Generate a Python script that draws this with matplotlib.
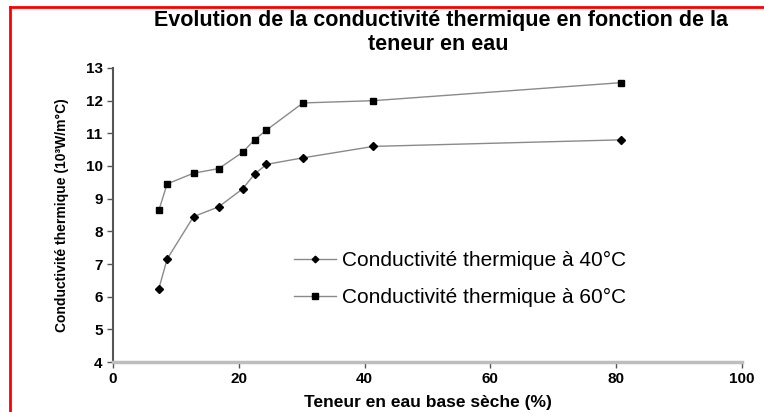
import matplotlib
matplotlib.use("Agg")
import matplotlib.pyplot as plt
from matplotlib.lines import Line2D

# Water content on a dry basis (%)
teneur = [7.3, 8.6, 12.8, 16.8, 20.6, 22.5, 24.4, 30.2, 41.4, 80.7]
# Thermal conductivity at 40 °C and 60 °C
cond_40 = [6.25, 7.15, 8.45, 8.75, 9.3, 9.75, 10.05, 10.25, 10.6, 10.8]
cond_60 = [8.65, 9.45, 9.78, 9.92, 10.42, 10.8, 11.1, 11.93, 12.0, 12.55]

x_ticks = [0, 20, 40, 60, 80, 100]
y_ticks = [4, 5, 6, 7, 8, 9, 10, 11, 12, 13]

plt.rcParams["font.family"] = ["Liberation Sans", "DejaVu Sans"]

fig = plt.figure(figsize=(7.64, 4.12), dpi=100)
ax = fig.add_axes([113 / 764, 50 / 412, 629 / 764, 294 / 412])

ax.plot(teneur, cond_40, color="#8a8a8a", lw=1.0, marker="D", ms=4.2,
        mfc="black", mec="black", label="Conductivité thermique à 40°C")
ax.plot(teneur, cond_60, color="#8a8a8a", lw=1.0, marker="s", ms=4.6,
        mfc="black", mec="black", label="Conductivité thermique à 60°C")

ax.set_xlim(0, 100)
ax.set_ylim(4, 13)
ax.set_xticks(x_ticks)
ax.set_yticks(y_ticks)
ax.tick_params(axis="both", labelsize=11, length=4, width=1, color="#555555")
for lbl in ax.get_xticklabels() + ax.get_yticklabels():
    lbl.set_fontweight("bold")

for side in ("top", "right"):
    ax.spines[side].set_visible(False)
ax.spines["left"].set_color("#555555")
ax.spines["left"].set_linewidth(1.5)
ax.spines["bottom"].set_color("#bdbdbd")
ax.spines["bottom"].set_linewidth(2.5)

ax.set_xlabel("Teneur en eau base sèche (%)", fontsize=12.5,
              fontweight="bold", labelpad=6)
ax.set_ylabel("Conductivité thermique (10³W/m°C)", fontsize=10,
              fontweight="bold", labelpad=12)

fig.text(0.577, 0.950, "Evolution de la conductivité thermique en fonction de la",
         ha="center", va="center", fontsize=15.5, fontweight="bold")
fig.text(0.573, 0.891, "teneur en eau", ha="center", va="center",
         fontsize=15.5, fontweight="bold")

ax.legend(loc="upper left", bbox_to_anchor=((286 - 113) / 629, (362 - 243) / 294),
          frameon=False, fontsize=15, handlelength=2.0, handletextpad=0.3,
          labelspacing=0.85, borderaxespad=0, markerscale=0.8)

# Red frame on the left and top edges
fig.add_artist(Line2D([10 / 764, 10 / 764], [0, 405 / 412], color="red",
                      lw=2, transform=fig.transFigure))
fig.add_artist(Line2D([10 / 764, 1], [405 / 412, 405 / 412], color="red",
                      lw=2, transform=fig.transFigure))

fig.savefig("out.png", dpi=100)
